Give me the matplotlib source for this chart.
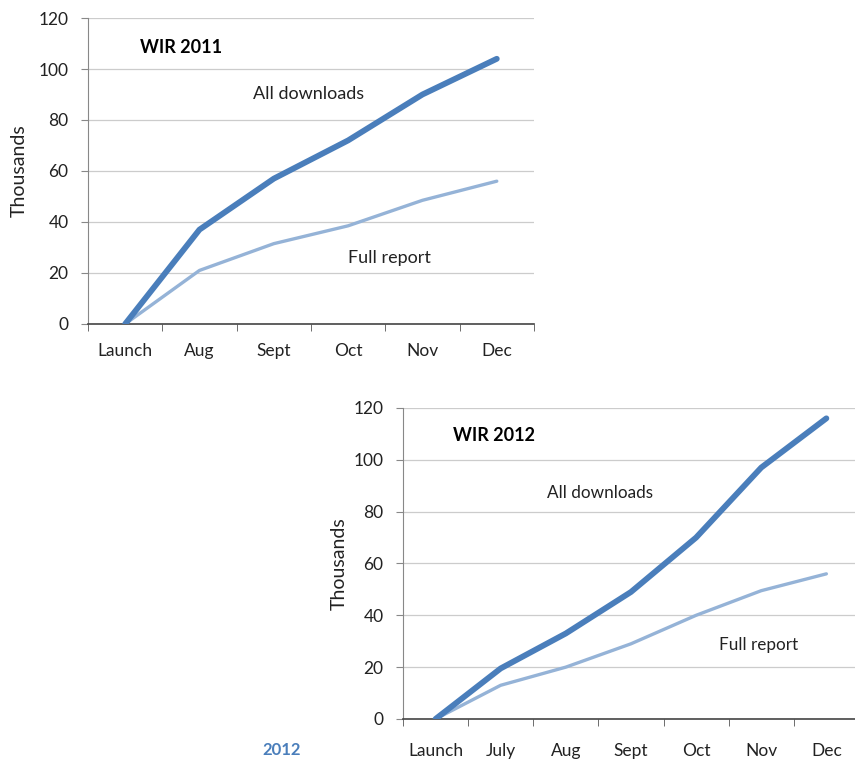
import matplotlib.pyplot as plt
import numpy as np

plt.rcParams['font.family'] = ['Lato', 'DejaVu Sans']

# WIR 2011 downloads (thousands)
months_2011 = ["Launch", "Aug", "Sept", "Oct", "Nov", "Dec"]
all_2011 = [0, 37, 57, 72, 90, 104]
full_2011 = [0, 21, 31.5, 38.5, 48.5, 56]

# WIR 2012 downloads (thousands)
months_2012 = ["Launch", "July", "Aug", "Sept", "Oct", "Nov", "Dec"]
all_2012 = [0, 19.5, 33, 49, 70, 97, 116]
full_2012 = [0, 13, 20, 29, 40, 49.5, 56]

dark = '#4a7ebb'
light = '#95b3d7'

fig = plt.figure(figsize=(8.55, 7.63), dpi=100)


def draw(ax, cats, all_vals, full_vals, title, pos_title, pos_all, pos_full, fs, xpad, ypad):
    x = np.arange(len(cats))
    ax.plot(x, full_vals, color=light, lw=2.4, solid_capstyle='round', zorder=3)
    ax.plot(x, all_vals, color=dark, lw=4.2, solid_capstyle='round', zorder=4)
    ax.set_xlim(-0.5, len(cats) - 0.5)
    ax.set_ylim(0, 120)
    ax.set_yticks(range(0, 121, 20))
    ax.set_xticks(x)
    ax.set_xticklabels(cats, fontsize=12.5, color='#222222')
    ax.set_xticks(np.arange(-0.5, len(cats), 1), minor=True)
    ax.tick_params(axis='x', which='major', length=0, pad=xpad)
    ax.tick_params(axis='x', which='minor', length=5, color='#555555', direction='out')
    ax.tick_params(axis='y', length=5, color='#888888', labelsize=12.5,
                   labelcolor='#222222', pad=9)
    ax.grid(axis='y', color='#cccccc', lw=0.9)
    ax.set_axisbelow(True)
    for s in ['top', 'right']:
        ax.spines[s].set_visible(False)
    ax.spines['left'].set_color('#888888')
    ax.spines['bottom'].set_color('#444444')
    ax.spines['bottom'].set_linewidth(1.2)
    ax.set_ylabel("Thousands", fontsize=14, labelpad=ypad, color='#222222')
    ax.text(pos_title[0], pos_title[1], title, fontsize=13, fontweight='bold',
            transform=ax.transAxes, va='center')
    ax.text(pos_all[0], pos_all[1], "All downloads", fontsize=fs, color='#222222',
            transform=ax.transAxes, va='center')
    ax.text(pos_full[0], pos_full[1], "Full report", fontsize=fs, color='#222222',
            transform=ax.transAxes, va='center')


ax1 = fig.add_axes([0.1029, 0.5754, 0.5216, 0.4010])
draw(ax1, months_2011, all_2011, full_2011, "WIR 2011",
     (0.117, 0.905), (0.371, 0.752), (0.584, 0.217), 13, 14, 8)

ax2 = fig.add_axes([0.4713, 0.0577, 0.5333, 0.4076])
draw(ax2, months_2012, all_2012, full_2012, "WIR 2012",
     (0.110, 0.913), (0.316, 0.727), (0.693, 0.238), 12.3, 17, 4)

fig.text(0.329, 0.011, "2012", color=dark, fontsize=12, fontweight='bold', ha='center')

fig.savefig("out.png", dpi=100)
